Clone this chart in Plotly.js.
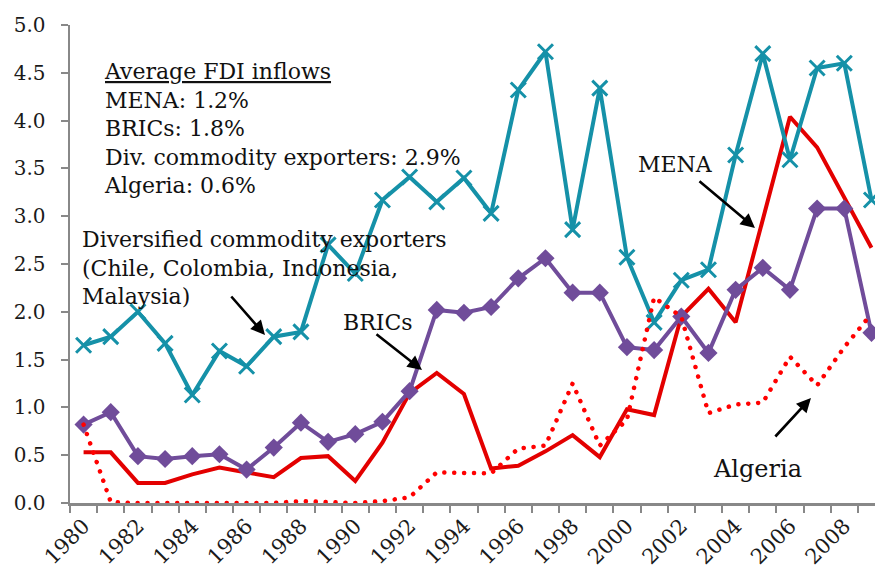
<!DOCTYPE html>
<html>
<head>
<meta charset="utf-8">
<script src="https://cdn.plot.ly/plotly-3.0.1.min.js"></script>
<style>html,body{margin:0;padding:0;background:#fff}#chart{width:875px;height:572px}</style>
</head>
<body>
<div id="chart"></div>
<script>
const years = [1980,1981,1982,1983,1984,1985,1986,1987,1988,1989,1990,1991,1992,1993,1994,1995,1996,1997,1998,1999,2000,2001,2002,2003,2004,2005,2006,2007,2008,2009];
const mena = [0.53,0.53,0.21,0.21,0.30,0.37,0.32,0.27,0.47,0.49,0.23,0.63,1.15,1.36,1.14,0.36,0.39,0.54,0.71,0.48,0.98,0.92,1.95,2.24,1.89,2.95,4.04,3.72,3.20,2.67];
const brics = [0.82,0.95,0.49,0.46,0.49,0.51,0.35,0.58,0.84,0.64,0.72,0.85,1.17,2.02,1.99,2.05,2.35,2.56,2.20,2.20,1.63,1.60,1.95,1.57,2.23,2.46,2.23,3.08,3.08,1.78];
const divExp = [1.65,1.74,2.00,1.67,1.13,1.59,1.43,1.74,1.79,2.70,2.40,3.17,3.41,3.15,3.40,3.03,4.32,4.72,2.86,4.34,2.57,1.89,2.33,2.44,3.64,4.70,3.59,4.55,4.60,3.17];
const algeria = [0.82,0.01,0.00,0.00,0.00,0.00,0.00,0.00,0.02,0.01,0.00,0.02,0.06,0.32,0.31,0.31,0.57,0.60,1.25,0.60,0.87,2.15,1.95,0.94,1.03,1.05,1.53,1.23,1.63,1.98];
const yearLabels = [1980,1982,1984,1986,1988,1990,1992,1994,1996,1998,2000,2002,2004,2006,2008];
const yTicks = [0,0.5,1,1.5,2,2.5,3,3.5,4,4.5,5];

const TEAL = '#1591A8', RED = '#E30000', DOTRED = '#FF0000', PURPLE = '#704C9A', AX = '#888888';
const FONT = 'DejaVu Serif';

const traces = [
  {x: years, y: mena, mode: 'lines', line: {color: RED, width: 4}, name: 'MENA'},
  {x: years, y: brics, mode: 'lines+markers', line: {color: PURPLE, width: 4},
   marker: {symbol: 'diamond', size: 14, color: PURPLE}, name: 'BRICs'},
  {x: years, y: divExp, mode: 'lines+markers', line: {color: TEAL, width: 4},
   marker: {symbol: 'x-thin', size: 15, color: TEAL, line: {color: TEAL, width: 3}}, name: 'Diversified commodity exporters'},
  {x: years, y: algeria, mode: 'lines', line: {color: DOTRED, width: 4.5, dash: '0.1px,9.8px'}, name: 'Algeria'}
];

// pixel helpers for annotation placement
const px2x = p => 1979.5 + (p - 70) / 27.17;
const py2y = p => (503 - p) / 95.6;

const txt = (s, left, top, size) => ({
  text: s, x: px2x(left), y: py2y(top), xanchor: 'left', yanchor: 'top', align: 'left',
  showarrow: false, font: {family: FONT, size: size || 22, color: '#111'}
});
const arr = (tipX, tipY, tailX, tailY) => ({
  text: '', x: px2x(tipX), y: py2y(tipY), ax: tailX - tipX, ay: tailY - tipY,
  showarrow: true, arrowhead: 2, arrowsize: 1.1, arrowwidth: 2.6, arrowcolor: '#000', standoff: 0, startstandoff: 0
});

const annotations = [
  txt('<u>Average FDI inflows</u><br>MENA: 1.2%<br>BRICs: 1.8%<br>Div. commodity exporters: 2.9%<br>Algeria: 0.6%', 102, 57),
  txt('MENA', 636, 150),
  txt('Diversified commodity exporters<br>(Chile, Colombia, Indonesia,<br>Malaysia)', 80, 225),
  txt('BRICs', 341, 308),
  txt('Algeria', 711, 453, 24),
  arr(755, 228, 698, 180),
  arr(265, 335, 230, 295),
  arr(422, 370, 375, 333),
  arr(811, 398, 774, 438)
];

const layout = {
  width: 875, height: 572,
  margin: {l: 70, r: 0, t: 25, b: 69, pad: 0},
  paper_bgcolor: '#fff', plot_bgcolor: '#fff',
  showlegend: false,
  font: {family: FONT, size: 20, color: '#222'},
  xaxis: {
    range: [1979.5, 2009.13], showgrid: false, zeroline: false,
    showline: true, linecolor: AX, linewidth: 2.5,
    tickmode: 'array', tickvals: yearLabels, ticktext: yearLabels.map(String),
    ticks: '', tickangle: -45, tickfont: {family: FONT, size: 21, color: '#1a1a1a'},
    minor: {ticks: 'outside', tick0: 1979.5, dtick: 1, ticklen: 7, tickwidth: 2, tickcolor: AX, showgrid: false}
  },
  yaxis: {
    range: [0, 5], showgrid: false, zeroline: false,
    showline: true, linecolor: AX, linewidth: 2.5,
    tickmode: 'array', tickvals: yTicks, ticktext: yTicks.map(v => v.toFixed(1)),
    ticks: 'outside', ticklen: 7, tickwidth: 2, tickcolor: AX,
    tickfont: {family: FONT, size: 20, color: '#1a1a1a'}, ticklabelstandoff: 11
  },
  annotations: annotations
};

Plotly.newPlot('chart', traces, layout, {displayModeBar: false, staticPlot: true}).then(gd => {
  const tr = gd.querySelectorAll('.scatterlayer .trace');
  const last = tr[tr.length - 1];
  if (last) last.querySelectorAll('path.js-line').forEach(p => { p.style.strokeLinecap = 'round'; });
});
</script>
</body>
</html>
